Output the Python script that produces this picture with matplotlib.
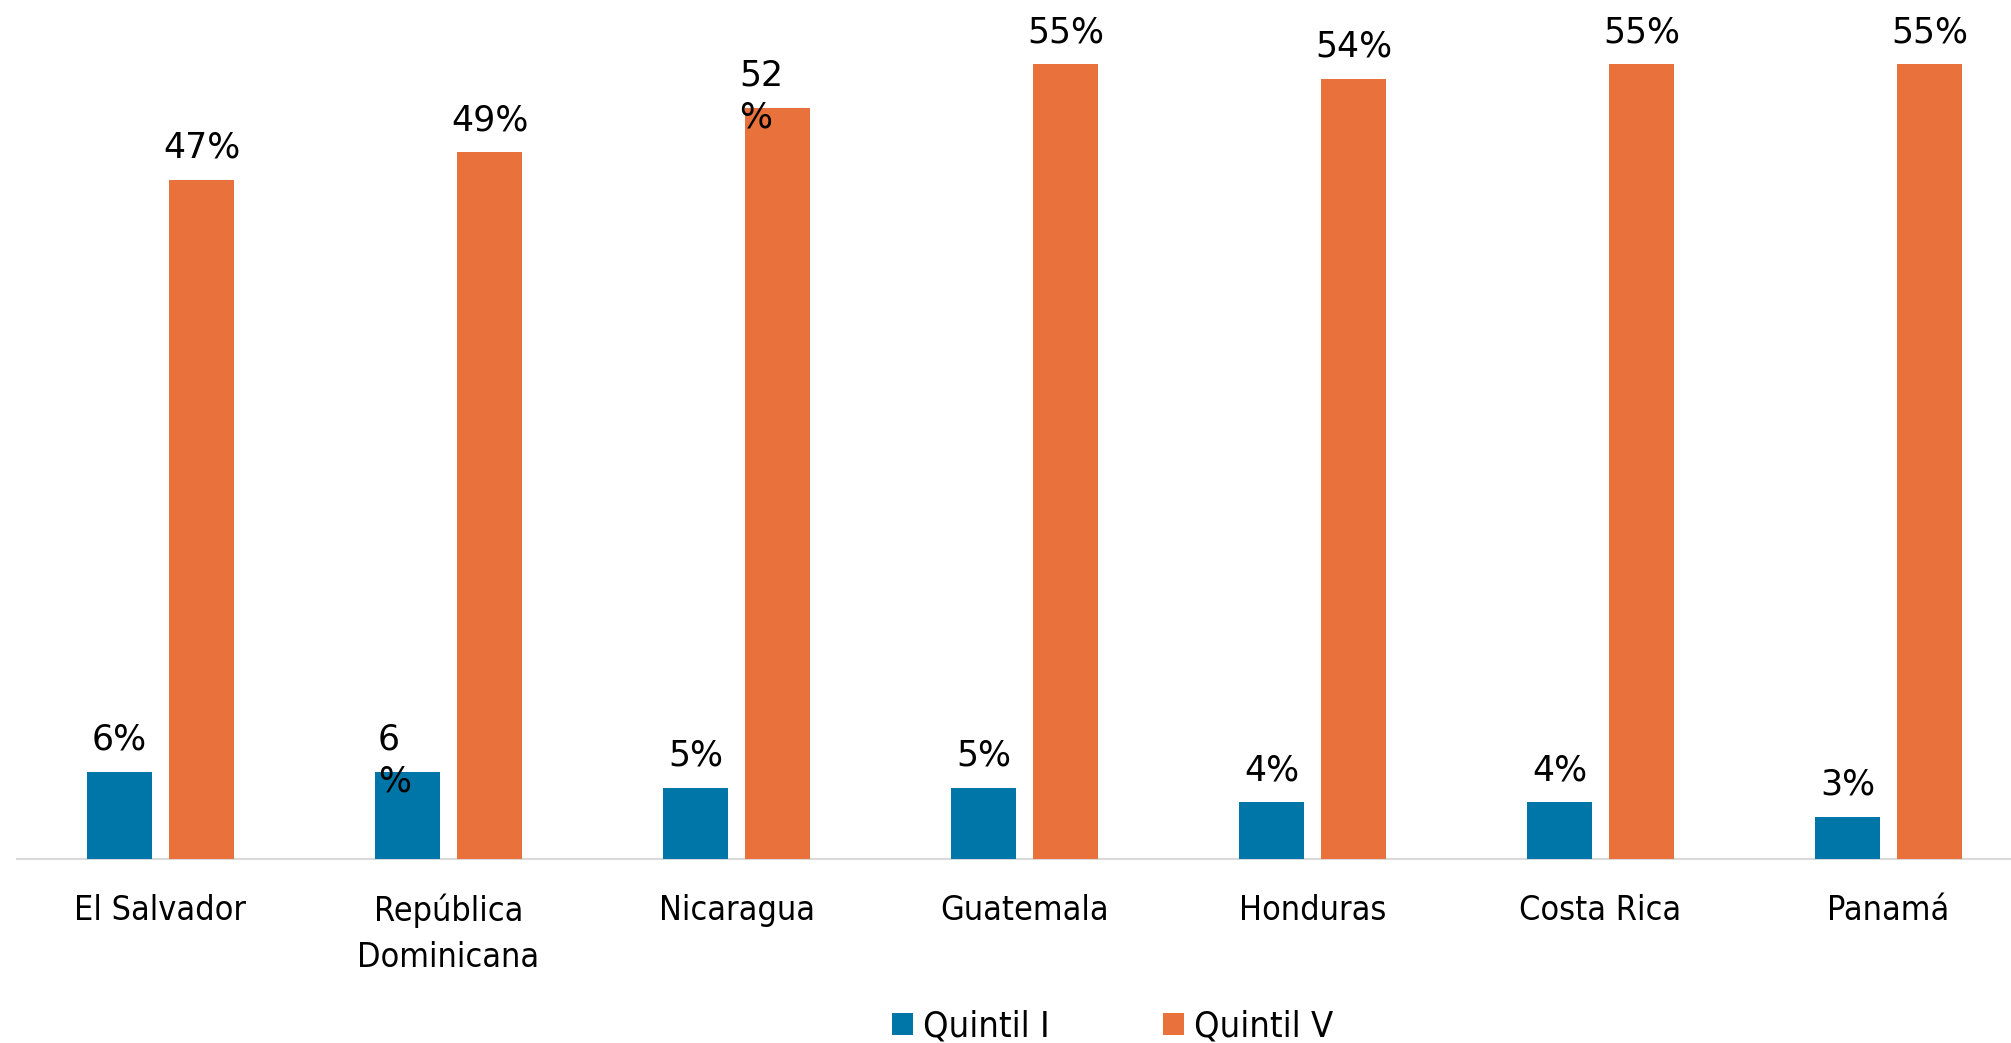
import matplotlib
matplotlib.use("Agg")
import matplotlib.pyplot as plt
import numpy as np
from matplotlib import font_manager

paises = ["El Salvador", "República\nDominicana", "Nicaragua", "Guatemala",
          "Honduras", "Costa Rica", "Panamá"]
quintil_1 = [6.0, 6.0, 4.9, 4.9, 3.9, 3.9, 2.9]
quintil_5 = [47.0, 48.9, 52.0, 55.0, 54.0, 55.0, 55.0]
series_names = ["Quintil I", "Quintil V"]

blue = "#0076A8"
orange = "#E8713C"

# narrow face for the category / legend text, if the condensed DejaVu is there
cond = font_manager.FontProperties(family="DejaVu Sans", stretch="condensed")
if "Condensed" in font_manager.findfont(cond):
    cat_kw = dict(family="DejaVu Sans", stretch="condensed")
    cat_size, leg_size = 24.5, 26
else:
    cat_kw = dict(family="DejaVu Sans")
    cat_size, leg_size = 22, 23.5
cat_font = font_manager.FontProperties(size=cat_size, **cat_kw)
leg_font = font_manager.FontProperties(size=leg_size, **cat_kw)

fig = plt.figure(figsize=(20.11, 10.43), dpi=100)
ax = fig.add_axes([16.5 / 2011, 1 - 858.5 / 1043, 2016 / 2011, 858.5 / 1043])

x = np.arange(len(paises))
w = 0.2257
off = 0.1424
b1 = ax.bar(x - off, quintil_1, w, color=blue, zorder=3)
b2 = ax.bar(x + off, quintil_5, w, color=orange, zorder=3)

ax.set_xlim(-0.5, len(paises) - 0.5)
ax.set_ylim(0, 59.45)
ax.set_yticks([])
ax.set_xticks(x)
ax.set_xticklabels(paises, fontproperties=cat_font, linespacing=1.5, color="black")
ax.tick_params(axis="x", length=0, pad=25.5)
for s in ["top", "left", "right"]:
    ax.spines[s].set_visible(False)
ax.spines["bottom"].set_color("#D9D9D9")
ax.spines["bottom"].set_linewidth(1.5)

# Excel broke two labels over two lines, px shift from the bar's left edge
wrapped = {(0, 1): 3, (1, 2): -6}
for s, bars in enumerate([b1, b2]):
    for i, rect in enumerate(bars):
        top = rect.get_height()
        txt = f"{top:.0f}%"
        if (s, i) in wrapped:
            dx = wrapped[(s, i)] * 0.72
            ax.annotate(txt[:-1], (rect.get_x(), top), xytext=(dx, 15.8),
                        textcoords="offset points", ha="left", va="baseline",
                        fontsize=25, color="black", zorder=4)
            ax.annotate("%", (rect.get_x(), top), xytext=(dx, 15.8 - 30.2),
                        textcoords="offset points", ha="left", va="baseline",
                        fontsize=25, color="black", zorder=4)
        else:
            ax.annotate(txt, (rect.get_x() + rect.get_width() / 2, top),
                        xytext=(0, 15.8), textcoords="offset points",
                        ha="center", va="baseline", fontsize=25,
                        color="black", zorder=4)

fs = leg_size
fig.legend([b1, b2], series_names, loc="center", bbox_to_anchor=(0.5533, 0.0155),
           ncol=2, frameon=False, prop=leg_font, handlelength=15.1 / fs,
           handleheight=15.1 / fs, handletextpad=7.2 / fs, columnspacing=81.4 / fs,
           borderpad=0)

fig.savefig("out.png", dpi=100)
